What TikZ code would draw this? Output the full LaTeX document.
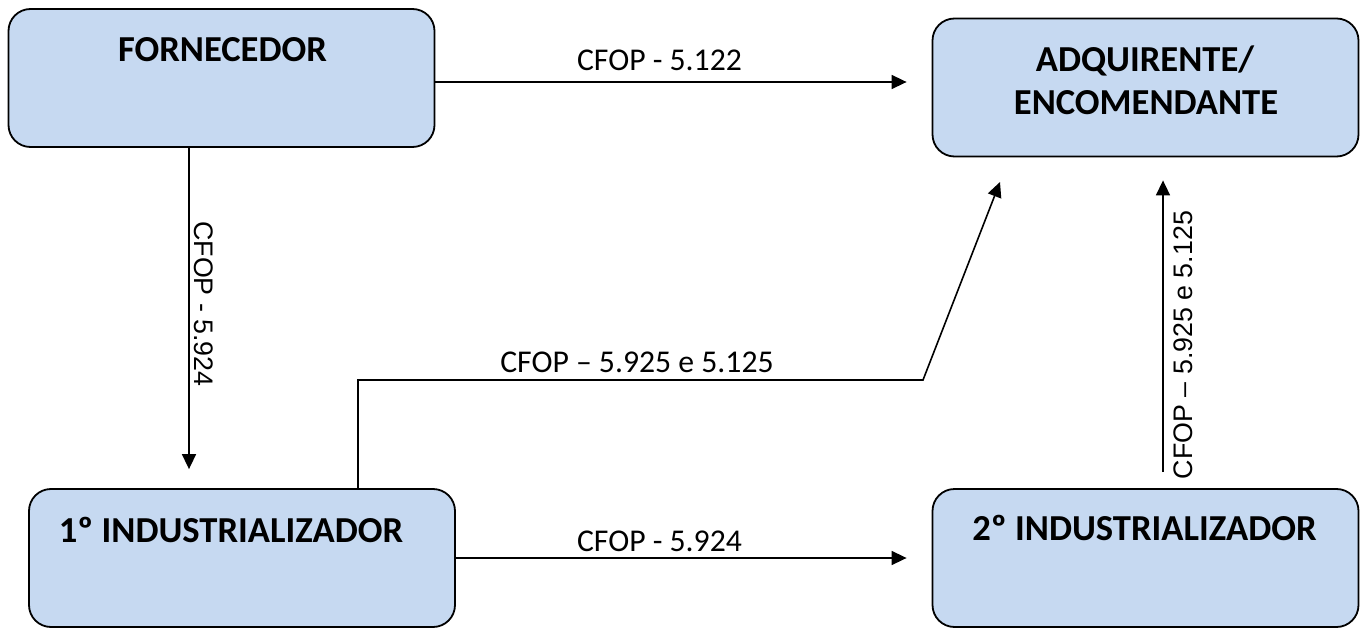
\documentclass[tikz,border=0pt]{standalone}
\usepackage{fontspec}
\setmainfont{Carlito}
\newfontfamily\arialfont{Liberation Sans}
\usetikzlibrary{arrows.meta}
\definecolor{boxfill}{RGB}{198,217,241}
\begin{document}
\begin{tikzpicture}[x=1pt,y=-1pt,
  box/.style={draw=black,line width=1.8pt,fill=boxfill,rounded corners=22pt,
    minimum width=426pt,minimum height=138pt,inner sep=0pt},
  title/.style={font=\fontsize{36.6}{44.6}\selectfont\bfseries,anchor=base,inner sep=0pt},
  hlab/.style={font=\fontsize{31.7}{38}\selectfont,anchor=base,inner sep=0pt},
  vlab/.style={font=\arialfont\fontsize{26.8}{32}\selectfont,inner sep=0pt},
  arr/.style={line width=1.6pt,-{Triangle[length=15pt,width=14pt]}}]
\useasboundingbox (0,0) rectangle (1362,628);
% boxes
\node[box] (forn) at (221.5,78) {};
\node[box] (adq)  at (1145.5,87.5) {};
\node[box] (ind1) at (242,558) {};
\node[box] (ind2) at (1145.5,558) {};
% titles
\node[title] (tforn) at (222.5,62) {FORNECEDOR};
\node[title] (tadq1) at (1145,72) {ADQUIRENTE/};
\node[title] (tadq2) at (1146,115) {ENCOMENDANTE};
\node[title] (tind1) at (231,542) {1º INDUSTRIALIZADOR};
\node[title] (tind2) at (1144.5,540) {2º INDUSTRIALIZADOR};
% free points
\coordinate (bend) at (923,380);
\coordinate (tip)  at (1000,182);
% connectors
\draw[arr,shorten >=25pt] ([yshift=-4pt]forn.east) -- ([yshift=-4pt]forn.east -| adq.west);
\draw[arr,shorten >=19pt] ([xshift=-32.5pt]forn.south) -- ([xshift=-32.5pt]forn.south |- ind1.north);
\draw[arr,shorten >=25pt] (ind1.east) -- (ind1.east -| ind2.west);
\draw[arr] ([xshift=116pt]ind1.north) |- (bend) -- (tip);
\draw[arr,shorten <=16pt,shorten >=23pt] ([xshift=17.5pt]ind2.north) -- ([xshift=17.5pt]ind2.north |- adq.south);
% labels
\node[hlab] (l1) at (659.5,71) {CFOP - 5.122};
\node[hlab] (l2) at (659.5,551) {CFOP - 5.924};
\node[hlab] (l3) at (637,372) {CFOP – 5.925 e 5.125};
\node[vlab,rotate=-90] (l4) at (204,304) {CFOP - 5.924};
\node[vlab,rotate=90] (l5) at (1183,345) {CFOP – 5.925 e 5.125};
\end{tikzpicture}
\end{document}
